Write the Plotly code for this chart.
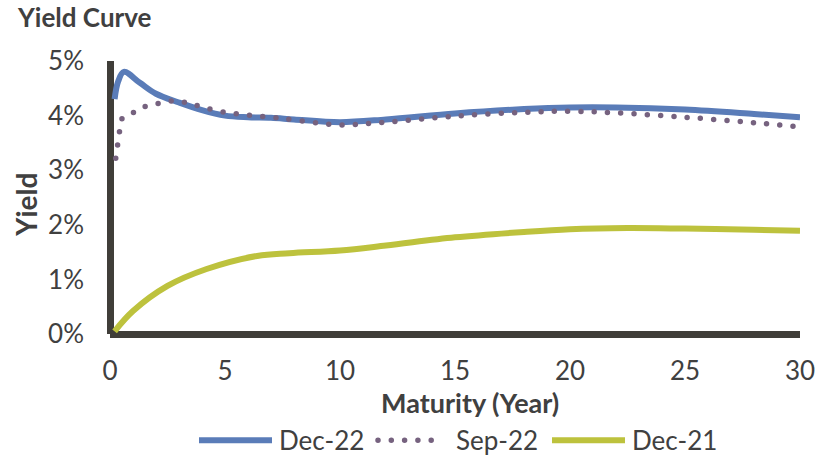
import plotly.graph_objects as go

# Treasury yield curves (maturity in years, yield in %)
dec22_maturity = [0.2, 0.35, 0.6, 1.3, 2.0, 3.0, 4.0, 5.0, 6.0, 7.0, 8.0, 10.0, 12.0, 15.0, 18.0, 20.0, 22.0, 25.0, 28.0, 30.0]
dec22_yield = [4.30, 4.62, 4.80, 4.60, 4.40, 4.24, 4.10, 4.00, 3.97, 3.96, 3.93, 3.88, 3.93, 4.04, 4.12, 4.15, 4.15, 4.11, 4.03, 3.97]

sep22_maturity = [0.25, 0.33, 0.42, 0.55, 1.1, 1.6, 2.2, 2.8, 3.4, 4.0, 5.0, 6.0, 7.0, 8.0, 10.0, 12.0, 15.0, 18.0, 20.0, 22.0, 25.0, 28.0, 30.0]
sep22_yield = [3.22, 3.46, 3.72, 3.96, 4.07, 4.18, 4.23, 4.27, 4.23, 4.16, 4.06, 4.01, 3.97, 3.92, 3.83, 3.88, 3.99, 4.06, 4.08, 4.05, 3.97, 3.87, 3.79]

dec21_maturity = [0.2, 1.0, 2.5, 4.2, 6.4, 7.8, 10.0, 12.0, 15.0, 18.0, 20.0, 22.5, 25.0, 28.0, 30.0]
dec21_yield = [0.05, 0.42, 0.88, 1.19, 1.43, 1.48, 1.53, 1.62, 1.77, 1.87, 1.92, 1.94, 1.93, 1.91, 1.89]

x_ticks = [0, 5, 10, 15, 20, 25, 30]
y_ticks = [0, 1, 2, 3, 4, 5]
y_tick_labels = [f"{v}%" for v in y_ticks]

BLUE = "#5a7cb8"
PURPLE = "#76627f"
GREEN = "#bdc23d"
AXIS = "#403e39"
TEXT = "#404040"
FONT = "Lato"
DOT_DASH = "2px,11.3px"  # re-styled to round dots after render

series = [
    ("Dec-22", dec22_maturity, dec22_yield, BLUE, 6, "solid"),
    ("Sep-22", sep22_maturity, sep22_yield, PURPLE, 5.5, DOT_DASH),
    ("Dec-21", dec21_maturity, dec21_yield, GREEN, 6, "solid"),
]

fig = go.Figure()
for name, xs, ys, color, width, dash in series:
    fig.add_trace(go.Scatter(
        x=xs, y=ys, name=name, mode="lines",
        line=dict(color=color, width=width, dash=dash, shape="spline", smoothing=1.0),
        showlegend=False,
    ))

# plot area in pixels: x 110..800, y 61..334.5
L, R, T, B = 110, 800, 61, 334.5
W, H = R - L, B - T


def px(x):
    return (x - L) / W


def py(y):
    return (B - y) / H


# custom legend: long line samples followed by labels
legend_items = [
    (199, 272, 277, "Dec-22", BLUE, 6, "solid"),
    (378, 438, 454, "Sep-22", PURPLE, 5.5, DOT_DASH),
    (552, 625, 630, "Dec-21", GREEN, 6, "solid"),
]
legend_y = py(441)
shapes = []
annotations = []
for x0, x1, xt, label, color, width, dash in legend_items:
    shapes.append(dict(type="line", xref="paper", yref="paper",
                       x0=px(x0), x1=px(x1), y0=legend_y, y1=legend_y,
                       line=dict(color=color, width=width, dash=dash)))
    annotations.append(dict(text=label, xref="paper", yref="paper",
                            x=px(xt), y=legend_y, xanchor="left", yanchor="middle",
                            showarrow=False, font=dict(family=FONT, size=26, color=TEXT)))

annotations.append(dict(text="<b>Maturity (Year)</b>", xref="paper", yref="paper",
                        x=px(469.5), y=py(403), xanchor="center", yanchor="middle",
                        showarrow=False, font=dict(family=FONT, size=27, color=TEXT)))
annotations.append(dict(text="<b>Yield</b>", xref="paper", yref="paper",
                        x=px(26), y=py(205), xanchor="center", yanchor="middle",
                        textangle=-90, showarrow=False,
                        font=dict(family=FONT, size=28, color=TEXT)))

fig.update_layout(
    width=829, height=458,
    margin=dict(l=L, r=829 - R, t=T, b=458 - B, pad=0),
    paper_bgcolor="white", plot_bgcolor="white",
    title=dict(text="<b>Yield Curve</b>", x=18 / 829, xanchor="left",
               y=1 - 18 / 458, yanchor="middle",
               font=dict(family=FONT, size=26, color=TEXT)),
    xaxis=dict(range=[0, 30], tickvals=x_ticks, showgrid=False, showline=False,
               zeroline=True, zerolinecolor=AXIS, zerolinewidth=7,
               ticks="", ticklabelstandoff=19,
               tickfont=dict(family=FONT, size=26, color=TEXT)),
    yaxis=dict(range=[0, 5], tickvals=y_ticks, ticktext=y_tick_labels,
               showgrid=False, showline=False, zeroline=True, zerolinecolor=AXIS,
               zerolinewidth=7, ticks="", ticklabelstandoff=25,
               tickfont=dict(family=FONT, size=26, color=TEXT)),
    shapes=shapes,
    annotations=annotations,
    showlegend=False,
)

round_dots = """
var gd = document.getElementById('{plot_id}');
gd.querySelectorAll('path').forEach(function (p) {
  var d = p.style.strokeDasharray || '';
  if (d.indexOf('2px') === 0) {
    p.style.strokeDasharray = '0px, 13.3px';
    p.style.strokeLinecap = 'round';
  }
});
"""

fig.write_html("out.html", post_script=round_dots)
